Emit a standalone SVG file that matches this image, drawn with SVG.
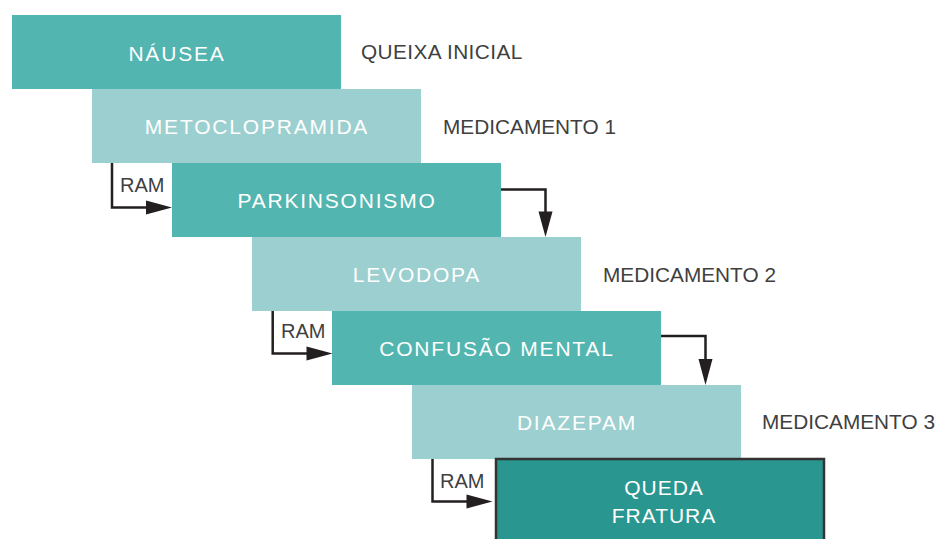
<svg xmlns="http://www.w3.org/2000/svg" width="939" height="539" viewBox="0 0 939 539">
<defs>
<style>
.t{fill:#52b5b0}
.l{fill:#9ccfcf}
.d{fill:#2a9690;stroke:#333;stroke-width:2.5}
.bt{font-family:"Liberation Sans",Arial,sans-serif;font-size:21px;fill:#fff;text-anchor:middle;letter-spacing:1.8px}
.rt{font-family:"Liberation Sans",Arial,sans-serif;font-size:20.8px;fill:#3f3f3f}
.ram{font-family:"Liberation Sans",Arial,sans-serif;font-size:20px;fill:#3f3f3f}
.c{fill:none;stroke:#231f20;stroke-width:2.5}
.h{fill:#231f20}
</style>
</defs>
<g id="n1"><rect class="t" x="12" y="15" width="329" height="74"/><text class="bt" x="177" y="61">NÁUSEA</text></g>
<g id="n2"><rect class="l" x="92" y="89" width="329" height="74"/><text class="bt" x="257" y="134">METOCLOPRAMIDA</text></g>
<g id="n3"><rect class="t" x="172" y="163" width="329" height="74"/><text class="bt" x="337" y="208">PARKINSONISMO</text></g>
<g id="n4"><rect class="l" x="252" y="237" width="329" height="74"/><text class="bt" x="417" y="282">LEVODOPA</text></g>
<g id="n5"><rect class="t" x="332" y="311" width="329" height="74"/><text class="bt" x="497" y="356">CONFUSÃO MENTAL</text></g>
<g id="n6"><rect class="l" x="412" y="385" width="329" height="74"/><text class="bt" x="577" y="430">DIAZEPAM</text></g>
<g id="n7"><rect class="d" x="496" y="459" width="328" height="90"/><text class="bt" x="664" y="494.5" style="letter-spacing:1px">QUEDA</text><text class="bt" x="664" y="522.5" style="letter-spacing:1px">FRATURA</text></g>
<g id="labels">
<text class="rt" x="361" y="59" style="letter-spacing:0.4px">QUEIXA INICIAL</text>
<text class="rt" x="443" y="134">MEDICAMENTO 1</text>
<text class="rt" x="603" y="282">MEDICAMENTO 2</text>
<text class="rt" x="762" y="429">MEDICAMENTO 3</text>
</g>
<g id="connectors">
<path class="c" d="M112,163 V207.5 H150"/>
<path class="h" d="M146,200.5 L172,207.5 L146,214.5 Z"/>
<text class="ram" x="120" y="192">RAM</text>
<path class="c" d="M272.7,311 V353.5 H310"/>
<path class="h" d="M306.5,346.5 L332.5,353.5 L306.5,360.5 Z"/>
<text class="ram" x="281" y="338">RAM</text>
<path class="c" d="M432.5,459 V501.5 H470"/>
<path class="h" d="M466.5,494.5 L492.5,501.5 L466.5,508.5 Z"/>
<text class="ram" x="440" y="488">RAM</text>
<path class="c" d="M501,189.5 H545.5 V215"/>
<path class="h" d="M538.5,211.5 L545.5,237 L552.5,211.5 Z"/>
<path class="c" d="M661,336 H705.5 V362"/>
<path class="h" d="M698.5,359 L705.5,385 L712.5,359 Z"/>
</g>
</svg>
